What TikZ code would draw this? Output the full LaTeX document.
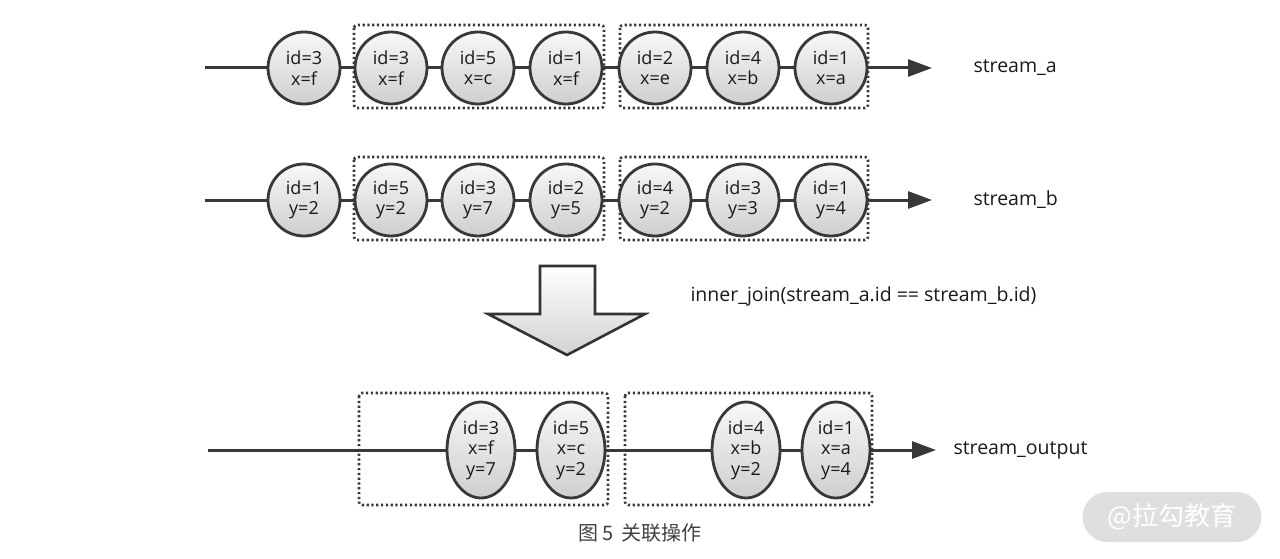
\documentclass[tikz,border=0pt]{standalone}
\usepackage{fontspec}
\setmainfont{Open Sans}
\newfontfamily\cjk{Noto Sans CJK SC}
\usetikzlibrary{arrows.meta,shapes.geometric}
\tikzset{
  ball/.style={circle,draw=black!78,line width=2.8pt,minimum size=72pt,inner sep=0pt,
    top color=gray!6,bottom color=gray!38,align=center,font=\fontsize{18}{20.5}\selectfont,text=black!90},
  oval/.style={ellipse,draw=black!78,line width=2.8pt,minimum width=68pt,minimum height=96pt,inner sep=0pt,
    top color=gray!6,bottom color=gray!38,align=center,font=\fontsize{18}{20.5}\selectfont,text=black!90},
  wire/.style={line width=3pt,draw=black!78},
  flow/.style={wire,-{Triangle[length=24pt,width=17pt]}},
  group/.style={draw=black!78,line width=2.6pt,dash pattern=on 2.2pt off 2.6pt,rounded corners=3pt},
  lbl/.style={font=\fontsize{19.5}{22}\selectfont,text=black!90,anchor=west},
}
\begin{document}
\begin{tikzpicture}[x=1pt,y=-1pt]
\useasboundingbox (0,0) rectangle (1280,559);
% groups
\draw[group] (354,25) rectangle (604,108);
\draw[group] (620,25) rectangle (868,108);
\draw[group] (354,157) rectangle (604,240);
\draw[group] (620,157) rectangle (868,240);
\draw[group] (359,393) rectangle (608,505);
\draw[group] (625,393) rectangle (872,505);
% stream a
\coordinate (as) at (205,68);
\coordinate (ae) at (932,68);
\node[ball] (a1) at (304,68) {id=3\\x=f};
\node[ball] (a2) at (391,68) {id=3\\x=f};
\node[ball] (a3) at (478,68) {id=5\\x=c};
\node[ball] (a4) at (566,68) {id=1\\x=f};
\node[ball] (a5) at (655,68) {id=2\\x=e};
\node[ball] (a6) at (743,68) {id=4\\x=b};
\node[ball] (a7) at (831,68) {id=1\\x=a};
\draw[wire] (as) -- (a1);
\draw[wire] (a1) -- (a2);
\draw[wire] (a2) -- (a3);
\draw[wire] (a3) -- (a4);
\draw[wire] (a4) -- (a5);
\draw[wire] (a5) -- (a6);
\draw[wire] (a6) -- (a7);
\draw[flow] (a7) -- (ae);
\node[lbl] (la) at (970,68) {stream\_a};
% stream b
\coordinate (bs) at (205,200);
\coordinate (be) at (932,200);
\node[ball] (b1) at (304,200) {id=1\\y=2};
\node[ball] (b2) at (391,200) {id=5\\y=2};
\node[ball] (b3) at (478,200) {id=3\\y=7};
\node[ball] (b4) at (566,200) {id=2\\y=5};
\node[ball] (b5) at (655,200) {id=4\\y=2};
\node[ball] (b6) at (743,200) {id=3\\y=3};
\node[ball] (b7) at (831,200) {id=1\\y=4};
\draw[wire] (bs) -- (b1);
\draw[wire] (b1) -- (b2);
\draw[wire] (b2) -- (b3);
\draw[wire] (b3) -- (b4);
\draw[wire] (b4) -- (b5);
\draw[wire] (b5) -- (b6);
\draw[wire] (b6) -- (b7);
\draw[flow] (b7) -- (be);
\node[lbl] (lb) at (970,200) {stream\_b};
% big arrow
\draw[draw=black!80,line width=2.6pt,top color=white,bottom color=gray!35,line join=miter]
  (540,266) -- (595,266) -- (595,314) -- (645,314) -- (567,355) -- (488,314) -- (540,314) -- cycle;
\node[lbl] (lj) at (687,296) {inner\_join(stream\_a.id == stream\_b.id)};
% output
\coordinate (os) at (208,450);
\coordinate (oe) at (936,450);
\node[oval] (o1) at (481,450) {id=3\\x=f\\y=7};
\node[oval] (o2) at (571,450) {id=5\\x=c\\y=2};
\node[oval] (o3) at (746,450) {id=4\\x=b\\y=2};
\node[oval] (o4) at (836,450) {id=1\\x=a\\y=4};
\draw[wire] (os) -- (o1);
\draw[wire] (o1) -- (o2);
\draw[wire] (o2) -- (o3);
\draw[wire] (o3) -- (o4);
\draw[flow] (o4) -- (oe);
\node[lbl] (lo) at (950,450) {stream\_output};
% caption
\node[font=\cjk\fontsize{20}{24}\selectfont,text=black!75] (cap) at (640,533) {图\,5\, 关联操作};
% watermark
\node[fill=gray!25,rounded corners=25pt,minimum width=179pt,minimum height=50pt,
  font=\cjk\fontsize{26}{30}\selectfont,text=white] (wm) at (1172,517) {@拉勾教育};
\end{tikzpicture}
\end{document}
